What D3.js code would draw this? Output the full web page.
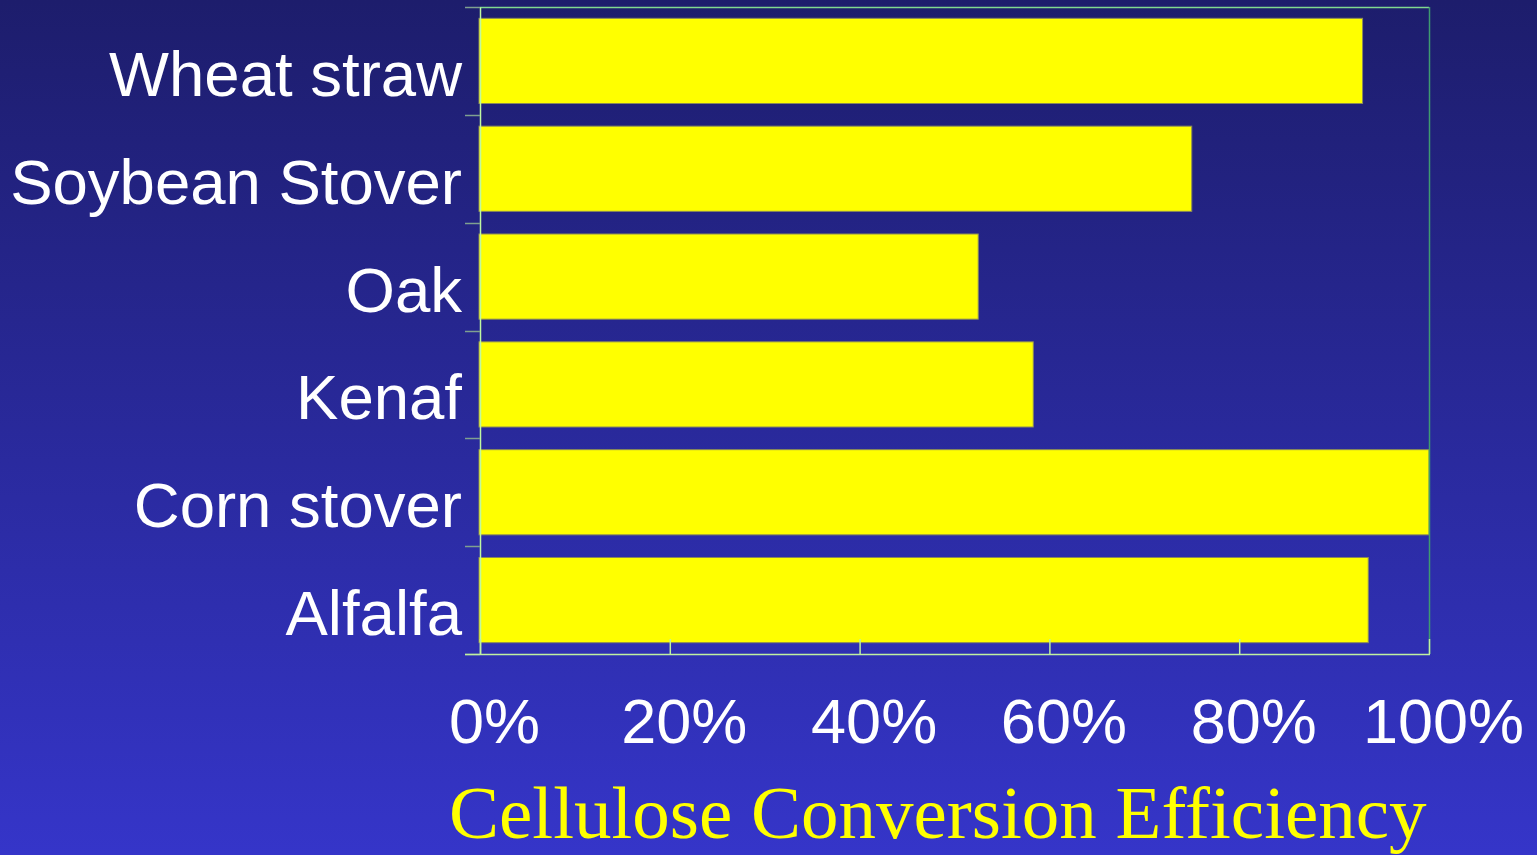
<!DOCTYPE html>
<html>
<head>
<meta charset="utf-8">
<script src="https://cdn.jsdelivr.net/npm/d3@7"></script>
<style>
  html, body { margin: 0; padding: 0; background: #2a2a9a; }
  svg { display: block; }
</style>
</head>
<body>
<svg id="chart" width="1537" height="855"></svg>
<script>
// Feedstocks, top to bottom, and their cellulose conversion efficiency (fraction)
const categories = ["Wheat straw", "Soybean Stover", "Oak", "Kenaf", "Corn stover", "Alfalfa"];
const efficiency = [0.93, 0.75, 0.525, 0.583, 1.0, 0.936];
const xTickValues = [0, 0.2, 0.4, 0.6, 0.8, 1.0];
const xTitle = "Cellulose Conversion Efficiency";

const W = 1537, H = 855;
const plot = { left: 480, right: 1429, top: 7, bottom: 654 };

const svg = d3.select("#chart");

// Vertical blue gradient background
const defs = svg.append("defs");
const grad = defs.append("linearGradient")
  .attr("id", "bg").attr("x1", 0).attr("y1", 0).attr("x2", 0).attr("y2", 1);
grad.append("stop").attr("offset", "0%").attr("stop-color", "#1d1d6c");
grad.append("stop").attr("offset", "100%").attr("stop-color", "#3535c9");
svg.append("rect").attr("width", W).attr("height", H).attr("fill", "url(#bg)");

const x = d3.scaleLinear().domain([0, 1]).range([plot.left, plot.right]);
const y = d3.scaleBand().domain(categories)
  .range([plot.top, plot.bottom])
  .paddingInner(0.21).paddingOuter(0.105);

const data = categories.map((c, i) => ({ name: c, value: efficiency[i] }));

// Bars
svg.append("g").selectAll("rect").data(data).join("rect")
  .attr("x", x(0) - 1)
  .attr("y", d => y(d.name))
  .attr("width", d => x(d.value) - x(0) + 1)
  .attr("height", y.bandwidth())
  .attr("fill", "#ffff00")
  .attr("stroke", "#8a8a5a")
  .attr("stroke-width", 1);

// Plot frame: top and right edges
svg.append("line")
  .attr("x1", plot.left).attr("x2", plot.right)
  .attr("y1", plot.top + 0.5).attr("y2", plot.top + 0.5)
  .attr("stroke", "#80d890").attr("stroke-width", 1.5);
svg.append("line")
  .attr("x1", plot.right + 0.5).attr("x2", plot.right + 0.5)
  .attr("y1", plot.top).attr("y2", plot.bottom)
  .attr("stroke", "#3f9a70").attr("stroke-width", 1.5);

// Category axis: labels at band centres, ticks at band boundaries
const yAxis = svg.append("g")
  .attr("transform", `translate(${plot.left},0)`)
  .call(d3.axisLeft(y).tickSize(0).tickPadding(18));
yAxis.select(".domain").attr("stroke", "#c0f8a0").attr("stroke-width", 1.5);
yAxis.selectAll("text")
  .attr("fill", "#ffffff")
  .attr("font-family", "'Liberation Sans', Arial, sans-serif")
  .attr("font-size", 63.5)
  .attr("dy", null)
  .attr("y", 35);

const boundaries = d3.range(categories.length + 1).map(i => plot.top + i * y.step());
svg.append("g").selectAll("line").data(boundaries).join("line")
  .attr("x1", plot.left - 15).attr("x2", plot.left)
  .attr("y1", d => Math.round(d) + 0.5).attr("y2", d => Math.round(d) + 0.5)
  .attr("stroke", "#7fa090").attr("stroke-width", 1.5);

// Percentage axis along the bottom, ticks pointing into the plot
const xAxis = svg.append("g")
  .attr("transform", `translate(0,${plot.bottom})`)
  .call(d3.axisBottom(x).tickValues(xTickValues)
    .tickFormat(d3.format(".0%")).tickSizeInner(-15).tickSizeOuter(0));
xAxis.select(".domain").attr("stroke", "#c0f0a0").attr("stroke-width", 1.5)
  .attr("d", `M${plot.left - 15},0.5H${plot.right + 1}`);
xAxis.selectAll(".tick line").attr("stroke", "#c0f0a0").attr("stroke-width", 1.5);
xAxis.selectAll("text")
  .attr("fill", "#ffffff")
  .attr("font-family", "'Liberation Sans', Arial, sans-serif")
  .attr("font-size", 63)
  .attr("dy", null)
  .attr("x", 14)
  .attr("y", 89);

// Axis title
svg.append("text")
  .attr("x", 449).attr("y", 838)
  .attr("fill", "#ffff00")
  .attr("font-family", "'Liberation Serif', 'Times New Roman', serif")
  .attr("font-size", 75)
  .text(xTitle);
</script>
</body>
</html>
